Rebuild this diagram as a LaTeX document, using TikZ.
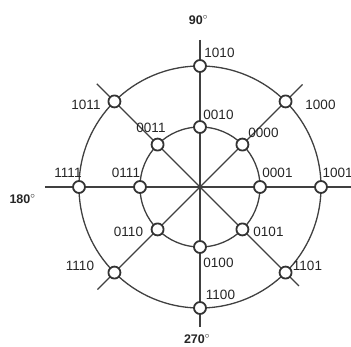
\documentclass[tikz,border=0pt]{standalone}
\usepackage{fontspec}
\setmainfont{Liberation Sans}

\begin{document}
\begin{tikzpicture}[x=1pt, y=1pt, line width=1.3pt, color=black!75,
	pt/.style={circle, draw=black!80, fill=white, line width=1.8pt, minimum size=12pt, inner sep=0pt},
	lbl/.style={font=\fontsize{13.5}{15}\selectfont, text=black!85, inner sep=0pt},
	deg/.style={font=\bfseries\fontsize{12.5}{14}\selectfont, text=black!85, inner sep=0pt}]
	\useasboundingbox[fill=white] (-200,-160) rectangle (151,187);
	% Axes and diagonals:
	\coordinate (N) at (0,147);
	\coordinate (S) at (0,-140);
	\coordinate (W) at (-155,0);
	\coordinate (E) at (151,0);
	\coordinate (NE) at (45:145);
	\coordinate (SW) at (225:145);
	\coordinate (NW) at (135:146);
	\coordinate (SE) at (315:140);
	\draw (N) -- (S);
	\draw (W) -- (E);
	\draw (NE) -- (SW);
	\draw (NW) -- (SE);
	% Rings:
	\draw (0,0) circle (121pt);
	\draw (0,0) circle (60pt);
	% Outer points:
	\node[pt] (o1010) at (90:121){};
	\node[pt] (o1000) at (45:121){};
	\node[pt] (o1001) at (0:121){};
	\node[pt] (o1101) at (-45:121){};
	\node[pt] (o1100) at (-90:121){};
	\node[pt] (o1110) at (-135:121){};
	\node[pt] (o1111) at (180:121){};
	\node[pt] (o1011) at (135:121){};
	% Inner points:
	\node[pt] (i0010) at (90:60){};
	\node[pt] (i0000) at (45:60){};
	\node[pt] (i0001) at (0:60){};
	\node[pt] (i0101) at (-45:60){};
	\node[pt] (i0100) at (-90:60){};
	\node[pt] (i0110) at (-135:60){};
	\node[pt] (i0111) at (180:60){};
	\node[pt] (i0011) at (135:60){};
	% Labels:
	\node[lbl] (t1010) at (19.5,134){1010};
	\node[lbl] (t1000) at (120.5,82){1000};
	\node[lbl, anchor=west] (t1001) at (122,14){1001};
	\node[lbl] (t1101) at (107.5,-79){1101};
	\node[lbl] (t1100) at (20.5,-108){1100};
	\node[lbl] (t1110) at (-120,-79){1110};
	\node[lbl] (t1111) at (-132,14){1111};
	\node[lbl] (t1011) at (-114,82){1011};
	\node[lbl] (t0010) at (18.5,72){0010};
	\node[lbl] (t0000) at (63.5,54){0000};
	\node[lbl] (t0001) at (77.5,14){0001};
	\node[lbl] (t0101) at (68.5,-45){0101};
	\node[lbl] (t0100) at (18.5,-76){0100};
	\node[lbl] (t0110) at (-71.5,-45){0110};
	\node[lbl] (t0111) at (-74,14){0111};
	\node[lbl] (t0011) at (-49,59){0011};
	\node[deg] (d90) at (-1.5,167){90$^\circ$};
	\node[deg] (d180) at (-177.5,-12){180$^\circ$};
	\node[deg] (d270) at (-3,-152){270$^\circ$};
\end{tikzpicture}
\end{document}
